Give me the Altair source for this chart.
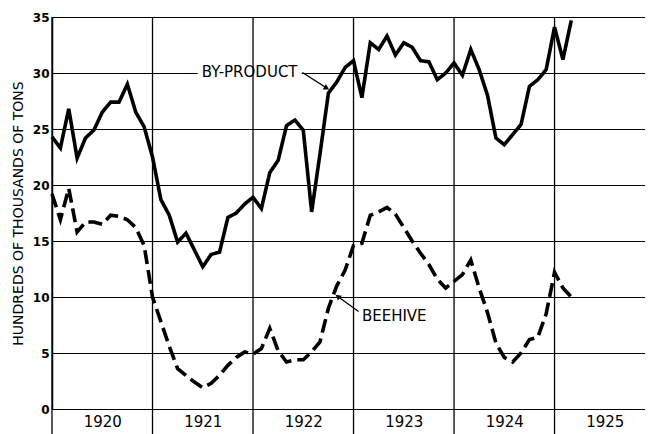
import altair as alt
import pandas as pd

# Monthly index: 0 = Jan 1920 ... 62 = Mar 1925
months = list(range(63))
byproduct = [24.3, 23.3, 26.8, 22.4, 24.2, 24.9, 26.5, 27.4, 27.4, 29.0, 26.5, 25.2,
             22.5, 18.7, 17.3, 14.9, 15.7, 14.2, 12.7, 13.8, 14.0, 17.1, 17.5, 18.3,
             18.9, 17.9, 21.1, 22.2, 25.3, 25.8, 24.9, 17.6, 22.8, 28.2, 29.2, 30.5,
             31.1, 27.8, 32.7, 32.1, 33.3, 31.6, 32.7, 32.3, 31.1, 31.0, 29.4, 30.0,
             30.9, 29.8, 32.1, 30.3, 28.0, 24.2, 23.6, 24.5, 25.4, 28.8, 29.4, 30.3,
             34.1, 31.2, 34.7]
beehive = [19.2, 16.9, 19.7, 15.8, 16.7, 16.7, 16.5, 17.3, 17.2, 16.9, 16.2, 14.6,
           10.0, 7.8, 5.6, 3.6, 3.0, 2.4, 1.9, 2.3, 3.0, 3.9, 4.6, 5.1,
           4.9, 5.4, 7.2, 5.2, 4.2, 4.4, 4.4, 5.1, 6.0, 9.0, 11.0, 12.4,
           14.6, 14.8, 17.3, 17.6, 18.0, 17.4, 16.2, 15.0, 13.9, 12.9, 11.6, 10.8,
           11.4, 12.0, 13.3, 10.8, 8.6, 5.9, 4.6, 4.2, 5.0, 6.2, 6.4, 8.5,
           12.2, 10.8, 10.0]
year_starts = [0, 12, 24, 36, 48, 60]
year_mids = [6, 18, 30, 42, 54, 66]
year_labels = ["1920", "1921", "1922", "1923", "1924", "1925"]
y_ticks = [0, 5, 10, 15, 20, 25, 30, 35]

W, H = 593, 392
FONT = "DejaVu Sans"

df = pd.DataFrame({
    "month": months * 2,
    "value": byproduct + beehive,
    "series": ["BY-PRODUCT"] * len(months) + ["BEEHIVE"] * len(months),
})

xs = alt.Scale(domain=[0, 70.8], nice=False, zero=False)
ys = alt.Scale(domain=[0, 35], nice=False)

label_expr = "{" + ",".join(f"'{m}':'{l}'" for m, l in zip(year_mids, year_labels)) + "}[datum.value]"

xaxis = alt.Axis(values=year_mids, labelExpr=label_expr, ticks=False, domain=False,
                 grid=False, title=None, labelFont=FONT, labelFontSize=15,
                 labelColor="black", labelPadding=5)
yaxis = alt.Axis(values=y_ticks, title="HUNDREDS OF THOUSANDS OF TONS",
                 titleFont=FONT, titleFontSize=14, titleFontWeight="normal",
                 titleColor="black", titlePadding=7,
                 labelFont=FONT, labelFontSize=12, labelFontWeight="bold",
                 labelColor="black", labelPadding=3, ticks=False,
                 domainColor="black", domainWidth=1.5,
                 grid=True, gridColor="black", gridWidth=1.2, gridOpacity=1)

base = alt.Chart(df)

lines = base.mark_line(strokeWidth=3.6, color="black", strokeJoin="miter").encode(
    x=alt.X("month:Q", scale=xs, axis=xaxis),
    y=alt.Y("value:Q", scale=ys, axis=yaxis),
    strokeDash=alt.StrokeDash("series:N",
                              scale=alt.Scale(domain=["BY-PRODUCT", "BEEHIVE"],
                                              range=[[1, 0], [14, 6]]),
                              legend=None),
    detail="series:N",
)

rules = alt.Chart(pd.DataFrame({"m": year_starts})).mark_rule(
    color="black", strokeWidth=1.3).encode(
    x=alt.X("m:Q", scale=xs), y=alt.value(0), y2=alt.value(H + 26))

# annotation: labels and arrows
bg = alt.Chart(pd.DataFrame({"x1": [17.4], "x2": [29.8], "y1": [29.4], "y2": [30.7]})).mark_rect(
    color="white").encode(x=alt.X("x1:Q", scale=xs), x2="x2:Q",
                          y=alt.Y("y1:Q", scale=ys), y2="y2:Q")

lab1 = alt.Chart(pd.DataFrame({"x": [23.6], "y": [30.05], "t": ["BY-PRODUCT"]})).mark_text(
    font=FONT, fontSize=15, color="black", baseline="middle", align="center").encode(
    x=alt.X("x:Q", scale=xs), y=alt.Y("y:Q", scale=ys), text="t:N")
lab2 = alt.Chart(pd.DataFrame({"x": [37.0], "y": [8.3], "t": ["BEEHIVE"]})).mark_text(
    font=FONT, fontSize=15, color="black", baseline="middle", align="left").encode(
    x=alt.X("x:Q", scale=xs), y=alt.Y("y:Q", scale=ys), text="t:N")

arrow_df = pd.DataFrame({
    "x": [29.9, 32.7, 36.6, 34.2], "y": [30.05, 28.7, 8.7, 10.0],
    "a": ["bp", "bp", "bh", "bh"]})
arrow_lines = alt.Chart(arrow_df).mark_line(color="black", strokeWidth=1.3).encode(
    x=alt.X("x:Q", scale=xs), y=alt.Y("y:Q", scale=ys), detail="a:N")
head1 = alt.Chart(pd.DataFrame({"x": [32.7], "y": [28.7]})).mark_point(
    shape="triangle", filled=True, color="black", size=40, angle=120, opacity=1).encode(
    x=alt.X("x:Q", scale=xs), y=alt.Y("y:Q", scale=ys))
head2 = alt.Chart(pd.DataFrame({"x": [34.2], "y": [10.0]})).mark_point(
    shape="triangle", filled=True, color="black", size=40, angle=309, opacity=1).encode(
    x=alt.X("x:Q", scale=xs), y=alt.Y("y:Q", scale=ys))

chart = alt.layer(bg, rules, arrow_lines, head1, head2, lines, lab1, lab2).properties(
    width=W, height=H,
    background="white",
    autosize=alt.AutoSizeParams(type="none"),
    padding={"left": 44, "top": 9, "right": 0, "bottom": 25},
).configure_view(stroke=None)

chart.save("out.html", embed_options={"renderer": "svg", "actions": False})
